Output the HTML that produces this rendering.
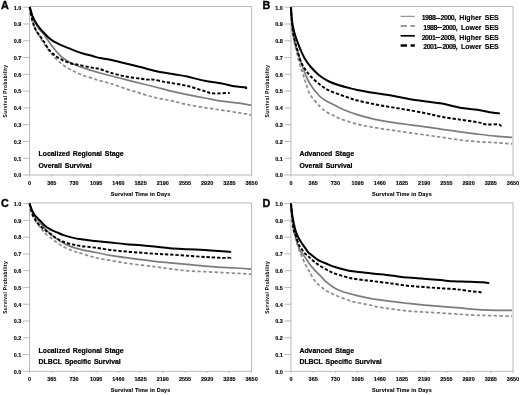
<!DOCTYPE html><html><head><meta charset="utf-8"><style>
html,body{margin:0;padding:0;background:#fff;width:520px;height:395px;overflow:hidden}
svg{display:block;will-change:transform} text{font-family:"Liberation Sans", sans-serif;fill:#000}
.tk{font-size:5.5px;font-weight:bold;stroke:#000;stroke-width:0.12px}
.yl{font-size:4.8px;font-weight:bold;letter-spacing:0.4px}
.pl{font-size:10.8px;font-weight:bold;stroke:#000;stroke-width:0.35px}
.an{font-size:6.9px;font-weight:bold;word-spacing:1px;stroke:#000;stroke-width:0.22px}
.lg{font-size:7px;font-weight:bold;stroke:#000;stroke-width:0.15px;word-spacing:1.3px}.dg{letter-spacing:-0.5px}
</style></head><body>
<svg width="520" height="395" viewBox="0 0 520 395">
<g transform="translate(0,0)">
<path d="M29.6,6.5H251.6V175.0H29.6Z" fill="none" stroke="#b8b8b8" stroke-width="1"/>
<line x1="23.2" y1="175.00" x2="29.6" y2="175.00" stroke="#b8b8b8" stroke-width="1"/>
<text x="21.4" y="177.30" text-anchor="end" class="tk">0.0</text>
<line x1="23.2" y1="158.22" x2="29.6" y2="158.22" stroke="#b8b8b8" stroke-width="1"/>
<text x="21.4" y="160.52" text-anchor="end" class="tk">0.1</text>
<line x1="23.2" y1="141.44" x2="29.6" y2="141.44" stroke="#b8b8b8" stroke-width="1"/>
<text x="21.4" y="143.74" text-anchor="end" class="tk">0.2</text>
<line x1="23.2" y1="124.66" x2="29.6" y2="124.66" stroke="#b8b8b8" stroke-width="1"/>
<text x="21.4" y="126.96" text-anchor="end" class="tk">0.3</text>
<line x1="23.2" y1="107.88" x2="29.6" y2="107.88" stroke="#b8b8b8" stroke-width="1"/>
<text x="21.4" y="110.18" text-anchor="end" class="tk">0.4</text>
<line x1="23.2" y1="91.10" x2="29.6" y2="91.10" stroke="#b8b8b8" stroke-width="1"/>
<text x="21.4" y="93.40" text-anchor="end" class="tk">0.5</text>
<line x1="23.2" y1="74.32" x2="29.6" y2="74.32" stroke="#b8b8b8" stroke-width="1"/>
<text x="21.4" y="76.62" text-anchor="end" class="tk">0.6</text>
<line x1="23.2" y1="57.54" x2="29.6" y2="57.54" stroke="#b8b8b8" stroke-width="1"/>
<text x="21.4" y="59.84" text-anchor="end" class="tk">0.7</text>
<line x1="23.2" y1="40.76" x2="29.6" y2="40.76" stroke="#b8b8b8" stroke-width="1"/>
<text x="21.4" y="43.06" text-anchor="end" class="tk">0.8</text>
<line x1="23.2" y1="23.98" x2="29.6" y2="23.98" stroke="#b8b8b8" stroke-width="1"/>
<text x="21.4" y="26.28" text-anchor="end" class="tk">0.9</text>
<line x1="23.2" y1="7.20" x2="29.6" y2="7.20" stroke="#b8b8b8" stroke-width="1"/>
<text x="21.4" y="9.50" text-anchor="end" class="tk">1.0</text>
<line x1="29.60" y1="175.0" x2="29.60" y2="176.6" stroke="#b8b8b8" stroke-width="1"/>
<text x="29.60" y="185.1" text-anchor="middle" class="tk">0</text>
<line x1="51.80" y1="175.0" x2="51.80" y2="176.6" stroke="#b8b8b8" stroke-width="1"/>
<text x="51.80" y="185.1" text-anchor="middle" class="tk">365</text>
<line x1="74.00" y1="175.0" x2="74.00" y2="176.6" stroke="#b8b8b8" stroke-width="1"/>
<text x="74.00" y="185.1" text-anchor="middle" class="tk">730</text>
<line x1="96.20" y1="175.0" x2="96.20" y2="176.6" stroke="#b8b8b8" stroke-width="1"/>
<text x="96.20" y="185.1" text-anchor="middle" class="tk">1095</text>
<line x1="118.40" y1="175.0" x2="118.40" y2="176.6" stroke="#b8b8b8" stroke-width="1"/>
<text x="118.40" y="185.1" text-anchor="middle" class="tk">1460</text>
<line x1="140.60" y1="175.0" x2="140.60" y2="176.6" stroke="#b8b8b8" stroke-width="1"/>
<text x="140.60" y="185.1" text-anchor="middle" class="tk">1825</text>
<line x1="162.80" y1="175.0" x2="162.80" y2="176.6" stroke="#b8b8b8" stroke-width="1"/>
<text x="162.80" y="185.1" text-anchor="middle" class="tk">2190</text>
<line x1="185.00" y1="175.0" x2="185.00" y2="176.6" stroke="#b8b8b8" stroke-width="1"/>
<text x="185.00" y="185.1" text-anchor="middle" class="tk">2555</text>
<line x1="207.20" y1="175.0" x2="207.20" y2="176.6" stroke="#b8b8b8" stroke-width="1"/>
<text x="207.20" y="185.1" text-anchor="middle" class="tk">2920</text>
<line x1="229.40" y1="175.0" x2="229.40" y2="176.6" stroke="#b8b8b8" stroke-width="1"/>
<text x="229.40" y="185.1" text-anchor="middle" class="tk">3285</text>
<line x1="251.60" y1="175.0" x2="251.60" y2="176.6" stroke="#b8b8b8" stroke-width="1"/>
<text x="251.60" y="185.1" text-anchor="middle" class="tk">3650</text>
<text x="140.60" y="196" text-anchor="middle" class="tk" style="letter-spacing:0.15px">Survival Time in Days</text>
<text transform="translate(7.1,91) rotate(-90)" text-anchor="middle" class="yl">Survival Probability</text>
<text x="1" y="8.9" class="pl">A</text>
<text x="38.5" y="156.2" class="an">Localized Regional Stage</text>
<text x="38.5" y="167.8" class="an">Overall Survival</text>
</g>
<g transform="translate(261.4,0)">
<path d="M29.6,6.5H251.6V175.0H29.6Z" fill="none" stroke="#b8b8b8" stroke-width="1"/>
<line x1="23.2" y1="175.00" x2="29.6" y2="175.00" stroke="#b8b8b8" stroke-width="1"/>
<text x="21.4" y="177.30" text-anchor="end" class="tk">0.0</text>
<line x1="23.2" y1="158.22" x2="29.6" y2="158.22" stroke="#b8b8b8" stroke-width="1"/>
<text x="21.4" y="160.52" text-anchor="end" class="tk">0.1</text>
<line x1="23.2" y1="141.44" x2="29.6" y2="141.44" stroke="#b8b8b8" stroke-width="1"/>
<text x="21.4" y="143.74" text-anchor="end" class="tk">0.2</text>
<line x1="23.2" y1="124.66" x2="29.6" y2="124.66" stroke="#b8b8b8" stroke-width="1"/>
<text x="21.4" y="126.96" text-anchor="end" class="tk">0.3</text>
<line x1="23.2" y1="107.88" x2="29.6" y2="107.88" stroke="#b8b8b8" stroke-width="1"/>
<text x="21.4" y="110.18" text-anchor="end" class="tk">0.4</text>
<line x1="23.2" y1="91.10" x2="29.6" y2="91.10" stroke="#b8b8b8" stroke-width="1"/>
<text x="21.4" y="93.40" text-anchor="end" class="tk">0.5</text>
<line x1="23.2" y1="74.32" x2="29.6" y2="74.32" stroke="#b8b8b8" stroke-width="1"/>
<text x="21.4" y="76.62" text-anchor="end" class="tk">0.6</text>
<line x1="23.2" y1="57.54" x2="29.6" y2="57.54" stroke="#b8b8b8" stroke-width="1"/>
<text x="21.4" y="59.84" text-anchor="end" class="tk">0.7</text>
<line x1="23.2" y1="40.76" x2="29.6" y2="40.76" stroke="#b8b8b8" stroke-width="1"/>
<text x="21.4" y="43.06" text-anchor="end" class="tk">0.8</text>
<line x1="23.2" y1="23.98" x2="29.6" y2="23.98" stroke="#b8b8b8" stroke-width="1"/>
<text x="21.4" y="26.28" text-anchor="end" class="tk">0.9</text>
<line x1="23.2" y1="7.20" x2="29.6" y2="7.20" stroke="#b8b8b8" stroke-width="1"/>
<text x="21.4" y="9.50" text-anchor="end" class="tk">1.0</text>
<line x1="29.60" y1="175.0" x2="29.60" y2="176.6" stroke="#b8b8b8" stroke-width="1"/>
<text x="29.60" y="185.1" text-anchor="middle" class="tk">0</text>
<line x1="51.80" y1="175.0" x2="51.80" y2="176.6" stroke="#b8b8b8" stroke-width="1"/>
<text x="51.80" y="185.1" text-anchor="middle" class="tk">365</text>
<line x1="74.00" y1="175.0" x2="74.00" y2="176.6" stroke="#b8b8b8" stroke-width="1"/>
<text x="74.00" y="185.1" text-anchor="middle" class="tk">730</text>
<line x1="96.20" y1="175.0" x2="96.20" y2="176.6" stroke="#b8b8b8" stroke-width="1"/>
<text x="96.20" y="185.1" text-anchor="middle" class="tk">1095</text>
<line x1="118.40" y1="175.0" x2="118.40" y2="176.6" stroke="#b8b8b8" stroke-width="1"/>
<text x="118.40" y="185.1" text-anchor="middle" class="tk">1460</text>
<line x1="140.60" y1="175.0" x2="140.60" y2="176.6" stroke="#b8b8b8" stroke-width="1"/>
<text x="140.60" y="185.1" text-anchor="middle" class="tk">1825</text>
<line x1="162.80" y1="175.0" x2="162.80" y2="176.6" stroke="#b8b8b8" stroke-width="1"/>
<text x="162.80" y="185.1" text-anchor="middle" class="tk">2190</text>
<line x1="185.00" y1="175.0" x2="185.00" y2="176.6" stroke="#b8b8b8" stroke-width="1"/>
<text x="185.00" y="185.1" text-anchor="middle" class="tk">2555</text>
<line x1="207.20" y1="175.0" x2="207.20" y2="176.6" stroke="#b8b8b8" stroke-width="1"/>
<text x="207.20" y="185.1" text-anchor="middle" class="tk">2920</text>
<line x1="229.40" y1="175.0" x2="229.40" y2="176.6" stroke="#b8b8b8" stroke-width="1"/>
<text x="229.40" y="185.1" text-anchor="middle" class="tk">3285</text>
<line x1="251.60" y1="175.0" x2="251.60" y2="176.6" stroke="#b8b8b8" stroke-width="1"/>
<text x="251.60" y="185.1" text-anchor="middle" class="tk">3650</text>
<text x="140.60" y="196" text-anchor="middle" class="tk" style="letter-spacing:0.15px">Survival Time in Days</text>
<text transform="translate(7.1,91) rotate(-90)" text-anchor="middle" class="yl">Survival Probability</text>
<text x="1" y="8.9" class="pl">B</text>
<text x="38.0" y="156.2" class="an">Advanced Stage</text>
<text x="38.0" y="167.8" class="an">Overall Survival</text>
</g>
<g transform="translate(0,196.35)">
<path d="M29.6,6.5H251.6V175.0H29.6Z" fill="none" stroke="#b8b8b8" stroke-width="1"/>
<line x1="23.2" y1="175.00" x2="29.6" y2="175.00" stroke="#b8b8b8" stroke-width="1"/>
<text x="21.4" y="177.30" text-anchor="end" class="tk">0.0</text>
<line x1="23.2" y1="158.22" x2="29.6" y2="158.22" stroke="#b8b8b8" stroke-width="1"/>
<text x="21.4" y="160.52" text-anchor="end" class="tk">0.1</text>
<line x1="23.2" y1="141.44" x2="29.6" y2="141.44" stroke="#b8b8b8" stroke-width="1"/>
<text x="21.4" y="143.74" text-anchor="end" class="tk">0.2</text>
<line x1="23.2" y1="124.66" x2="29.6" y2="124.66" stroke="#b8b8b8" stroke-width="1"/>
<text x="21.4" y="126.96" text-anchor="end" class="tk">0.3</text>
<line x1="23.2" y1="107.88" x2="29.6" y2="107.88" stroke="#b8b8b8" stroke-width="1"/>
<text x="21.4" y="110.18" text-anchor="end" class="tk">0.4</text>
<line x1="23.2" y1="91.10" x2="29.6" y2="91.10" stroke="#b8b8b8" stroke-width="1"/>
<text x="21.4" y="93.40" text-anchor="end" class="tk">0.5</text>
<line x1="23.2" y1="74.32" x2="29.6" y2="74.32" stroke="#b8b8b8" stroke-width="1"/>
<text x="21.4" y="76.62" text-anchor="end" class="tk">0.6</text>
<line x1="23.2" y1="57.54" x2="29.6" y2="57.54" stroke="#b8b8b8" stroke-width="1"/>
<text x="21.4" y="59.84" text-anchor="end" class="tk">0.7</text>
<line x1="23.2" y1="40.76" x2="29.6" y2="40.76" stroke="#b8b8b8" stroke-width="1"/>
<text x="21.4" y="43.06" text-anchor="end" class="tk">0.8</text>
<line x1="23.2" y1="23.98" x2="29.6" y2="23.98" stroke="#b8b8b8" stroke-width="1"/>
<text x="21.4" y="26.28" text-anchor="end" class="tk">0.9</text>
<line x1="23.2" y1="7.20" x2="29.6" y2="7.20" stroke="#b8b8b8" stroke-width="1"/>
<text x="21.4" y="9.50" text-anchor="end" class="tk">1.0</text>
<line x1="29.60" y1="175.0" x2="29.60" y2="176.6" stroke="#b8b8b8" stroke-width="1"/>
<text x="29.60" y="185.1" text-anchor="middle" class="tk">0</text>
<line x1="51.80" y1="175.0" x2="51.80" y2="176.6" stroke="#b8b8b8" stroke-width="1"/>
<text x="51.80" y="185.1" text-anchor="middle" class="tk">365</text>
<line x1="74.00" y1="175.0" x2="74.00" y2="176.6" stroke="#b8b8b8" stroke-width="1"/>
<text x="74.00" y="185.1" text-anchor="middle" class="tk">730</text>
<line x1="96.20" y1="175.0" x2="96.20" y2="176.6" stroke="#b8b8b8" stroke-width="1"/>
<text x="96.20" y="185.1" text-anchor="middle" class="tk">1095</text>
<line x1="118.40" y1="175.0" x2="118.40" y2="176.6" stroke="#b8b8b8" stroke-width="1"/>
<text x="118.40" y="185.1" text-anchor="middle" class="tk">1460</text>
<line x1="140.60" y1="175.0" x2="140.60" y2="176.6" stroke="#b8b8b8" stroke-width="1"/>
<text x="140.60" y="185.1" text-anchor="middle" class="tk">1825</text>
<line x1="162.80" y1="175.0" x2="162.80" y2="176.6" stroke="#b8b8b8" stroke-width="1"/>
<text x="162.80" y="185.1" text-anchor="middle" class="tk">2190</text>
<line x1="185.00" y1="175.0" x2="185.00" y2="176.6" stroke="#b8b8b8" stroke-width="1"/>
<text x="185.00" y="185.1" text-anchor="middle" class="tk">2555</text>
<line x1="207.20" y1="175.0" x2="207.20" y2="176.6" stroke="#b8b8b8" stroke-width="1"/>
<text x="207.20" y="185.1" text-anchor="middle" class="tk">2920</text>
<line x1="229.40" y1="175.0" x2="229.40" y2="176.6" stroke="#b8b8b8" stroke-width="1"/>
<text x="229.40" y="185.1" text-anchor="middle" class="tk">3285</text>
<line x1="251.60" y1="175.0" x2="251.60" y2="176.6" stroke="#b8b8b8" stroke-width="1"/>
<text x="251.60" y="185.1" text-anchor="middle" class="tk">3650</text>
<text x="140.60" y="196" text-anchor="middle" class="tk" style="letter-spacing:0.15px">Survival Time in Days</text>
<text transform="translate(7.1,91) rotate(-90)" text-anchor="middle" class="yl">Survival Probability</text>
<text x="1" y="10.9" class="pl">C</text>
<text x="38.5" y="156.2" class="an">Localized Regional Stage</text>
<text x="38.5" y="167.8" class="an">DLBCL Specific Survival</text>
</g>
<g transform="translate(261.4,196.35)">
<path d="M29.6,6.5H251.6V175.0H29.6Z" fill="none" stroke="#b8b8b8" stroke-width="1"/>
<line x1="23.2" y1="175.00" x2="29.6" y2="175.00" stroke="#b8b8b8" stroke-width="1"/>
<text x="21.4" y="177.30" text-anchor="end" class="tk">0.0</text>
<line x1="23.2" y1="158.22" x2="29.6" y2="158.22" stroke="#b8b8b8" stroke-width="1"/>
<text x="21.4" y="160.52" text-anchor="end" class="tk">0.1</text>
<line x1="23.2" y1="141.44" x2="29.6" y2="141.44" stroke="#b8b8b8" stroke-width="1"/>
<text x="21.4" y="143.74" text-anchor="end" class="tk">0.2</text>
<line x1="23.2" y1="124.66" x2="29.6" y2="124.66" stroke="#b8b8b8" stroke-width="1"/>
<text x="21.4" y="126.96" text-anchor="end" class="tk">0.3</text>
<line x1="23.2" y1="107.88" x2="29.6" y2="107.88" stroke="#b8b8b8" stroke-width="1"/>
<text x="21.4" y="110.18" text-anchor="end" class="tk">0.4</text>
<line x1="23.2" y1="91.10" x2="29.6" y2="91.10" stroke="#b8b8b8" stroke-width="1"/>
<text x="21.4" y="93.40" text-anchor="end" class="tk">0.5</text>
<line x1="23.2" y1="74.32" x2="29.6" y2="74.32" stroke="#b8b8b8" stroke-width="1"/>
<text x="21.4" y="76.62" text-anchor="end" class="tk">0.6</text>
<line x1="23.2" y1="57.54" x2="29.6" y2="57.54" stroke="#b8b8b8" stroke-width="1"/>
<text x="21.4" y="59.84" text-anchor="end" class="tk">0.7</text>
<line x1="23.2" y1="40.76" x2="29.6" y2="40.76" stroke="#b8b8b8" stroke-width="1"/>
<text x="21.4" y="43.06" text-anchor="end" class="tk">0.8</text>
<line x1="23.2" y1="23.98" x2="29.6" y2="23.98" stroke="#b8b8b8" stroke-width="1"/>
<text x="21.4" y="26.28" text-anchor="end" class="tk">0.9</text>
<line x1="23.2" y1="7.20" x2="29.6" y2="7.20" stroke="#b8b8b8" stroke-width="1"/>
<text x="21.4" y="9.50" text-anchor="end" class="tk">1.0</text>
<line x1="29.60" y1="175.0" x2="29.60" y2="176.6" stroke="#b8b8b8" stroke-width="1"/>
<text x="29.60" y="185.1" text-anchor="middle" class="tk">0</text>
<line x1="51.80" y1="175.0" x2="51.80" y2="176.6" stroke="#b8b8b8" stroke-width="1"/>
<text x="51.80" y="185.1" text-anchor="middle" class="tk">365</text>
<line x1="74.00" y1="175.0" x2="74.00" y2="176.6" stroke="#b8b8b8" stroke-width="1"/>
<text x="74.00" y="185.1" text-anchor="middle" class="tk">730</text>
<line x1="96.20" y1="175.0" x2="96.20" y2="176.6" stroke="#b8b8b8" stroke-width="1"/>
<text x="96.20" y="185.1" text-anchor="middle" class="tk">1095</text>
<line x1="118.40" y1="175.0" x2="118.40" y2="176.6" stroke="#b8b8b8" stroke-width="1"/>
<text x="118.40" y="185.1" text-anchor="middle" class="tk">1460</text>
<line x1="140.60" y1="175.0" x2="140.60" y2="176.6" stroke="#b8b8b8" stroke-width="1"/>
<text x="140.60" y="185.1" text-anchor="middle" class="tk">1825</text>
<line x1="162.80" y1="175.0" x2="162.80" y2="176.6" stroke="#b8b8b8" stroke-width="1"/>
<text x="162.80" y="185.1" text-anchor="middle" class="tk">2190</text>
<line x1="185.00" y1="175.0" x2="185.00" y2="176.6" stroke="#b8b8b8" stroke-width="1"/>
<text x="185.00" y="185.1" text-anchor="middle" class="tk">2555</text>
<line x1="207.20" y1="175.0" x2="207.20" y2="176.6" stroke="#b8b8b8" stroke-width="1"/>
<text x="207.20" y="185.1" text-anchor="middle" class="tk">2920</text>
<line x1="229.40" y1="175.0" x2="229.40" y2="176.6" stroke="#b8b8b8" stroke-width="1"/>
<text x="229.40" y="185.1" text-anchor="middle" class="tk">3285</text>
<line x1="251.60" y1="175.0" x2="251.60" y2="176.6" stroke="#b8b8b8" stroke-width="1"/>
<text x="251.60" y="185.1" text-anchor="middle" class="tk">3650</text>
<text x="140.60" y="196" text-anchor="middle" class="tk" style="letter-spacing:0.15px">Survival Time in Days</text>
<text transform="translate(7.1,91) rotate(-90)" text-anchor="middle" class="yl">Survival Probability</text>
<text x="1" y="10.9" class="pl">D</text>
<text x="38.0" y="156.2" class="an">Advanced Stage</text>
<text x="38.0" y="167.8" class="an">DLBCL Specific Survival</text>
</g>
<path d="M29.60,7.20 C29.75,8.17 30.05,10.70 30.50,13.00 C30.95,15.30 31.63,18.58 32.30,21.00 C32.97,23.42 33.75,25.67 34.50,27.50 C35.25,29.33 35.88,30.33 36.80,32.00 C37.72,33.67 38.20,34.68 40.00,37.50 C41.80,40.32 45.07,45.48 47.60,48.90 C50.13,52.32 52.67,55.35 55.20,58.00 C57.73,60.65 60.27,62.90 62.80,64.80 C65.33,66.70 67.87,68.00 70.40,69.40 C72.93,70.80 75.47,72.07 78.00,73.20 C80.53,74.33 83.07,75.32 85.60,76.20 C88.13,77.08 91.30,77.87 93.20,78.50 C95.10,79.13 94.13,79.17 97.00,80.00 C99.87,80.83 105.60,82.03 110.40,83.50 C115.20,84.97 120.67,87.13 125.80,88.80 C130.93,90.47 136.08,91.97 141.20,93.50 C146.32,95.03 151.37,96.77 156.50,98.00 C161.63,99.23 166.87,99.80 172.00,100.90 C177.13,102.00 181.87,103.48 187.30,104.60 C192.73,105.72 198.83,106.67 204.60,107.60 C210.37,108.53 216.13,109.33 221.90,110.20 C227.67,111.07 234.30,112.00 239.20,112.80 C244.10,113.60 249.28,114.63 251.30,115.00" fill="none" stroke="#8c8c8c" stroke-width="1.7" stroke-dasharray="3.4 2.3" stroke-linejoin="round"/>
<path d="M29.60,7.20 C30.05,8.75 31.25,13.70 32.30,16.50 C33.35,19.30 34.57,21.68 35.90,24.00 C37.23,26.32 38.95,28.63 40.30,30.40 C41.65,32.17 42.88,33.17 44.00,34.60 C45.12,36.03 46.00,37.55 47.00,39.00 C48.00,40.45 49.00,41.92 50.00,43.30 C51.00,44.68 52.00,46.02 53.00,47.30 C54.00,48.58 54.92,49.75 56.00,51.00 C57.08,52.25 58.33,53.63 59.50,54.80 C60.67,55.97 61.18,56.67 63.00,58.00 C64.82,59.33 67.90,61.47 70.40,62.80 C72.90,64.13 75.47,65.03 78.00,66.00 C80.53,66.97 83.07,67.77 85.60,68.60 C88.13,69.43 90.80,70.27 93.20,71.00 C95.60,71.73 97.13,72.20 100.00,73.00 C102.87,73.80 106.10,74.70 110.40,75.80 C114.70,76.90 120.67,78.32 125.80,79.60 C130.93,80.88 136.08,82.22 141.20,83.50 C146.32,84.78 151.37,86.00 156.50,87.30 C161.63,88.60 166.87,90.08 172.00,91.30 C177.13,92.52 181.87,93.48 187.30,94.60 C192.73,95.72 198.83,96.90 204.60,98.00 C210.37,99.10 216.13,100.33 221.90,101.20 C227.67,102.07 234.30,102.52 239.20,103.20 C244.10,103.88 249.28,104.95 251.30,105.30" fill="none" stroke="#7c7c7c" stroke-width="1.7" stroke-linejoin="round"/>
<path d="M29.60,7.20 C29.75,8.02 30.05,9.95 30.50,12.10 C30.95,14.25 31.63,17.58 32.30,20.10 C32.97,22.62 33.75,25.28 34.50,27.20 C35.25,29.12 35.90,30.13 36.80,31.60 C37.70,33.07 39.02,34.75 39.90,36.00 C40.78,37.25 41.32,37.97 42.10,39.10 C42.88,40.23 43.43,41.02 44.60,42.80 C45.77,44.58 47.33,47.65 49.10,49.80 C50.87,51.95 52.92,53.95 55.20,55.70 C57.48,57.45 60.27,59.05 62.80,60.30 C65.33,61.55 67.87,62.45 70.40,63.20 C72.93,63.95 75.47,64.27 78.00,64.80 C80.53,65.33 83.07,65.88 85.60,66.40 C88.13,66.92 90.92,67.48 93.20,67.90 C95.48,68.32 96.43,68.10 99.30,68.90 C102.17,69.70 105.98,71.43 110.40,72.70 C114.82,73.97 120.67,75.48 125.80,76.50 C130.93,77.52 137.62,78.28 141.20,78.80 C144.78,79.32 145.25,79.47 147.30,79.60 C149.35,79.73 150.68,79.22 153.50,79.60 C156.32,79.98 161.45,81.37 164.20,81.90 C166.95,82.43 166.15,82.12 170.00,82.80 C173.85,83.48 181.53,84.62 187.30,86.00 C193.07,87.38 200.27,89.87 204.60,91.10 C208.93,92.33 209.12,93.10 213.30,93.40 C217.48,93.70 226.97,92.98 229.70,92.90" fill="none" stroke="#000" stroke-width="1.95" stroke-dasharray="3.3 1.9" stroke-linejoin="round"/>
<path d="M29.60,7.20 C29.68,7.33 29.65,6.60 30.10,8.00 C30.55,9.40 31.33,13.15 32.30,15.60 C33.27,18.05 34.57,20.48 35.90,22.70 C37.23,24.92 38.83,27.08 40.30,28.90 C41.77,30.72 43.33,32.15 44.70,33.60 C46.07,35.05 47.15,36.38 48.50,37.60 C49.85,38.82 51.30,39.93 52.80,40.90 C54.30,41.87 55.83,42.57 57.50,43.40 C59.17,44.23 60.65,44.98 62.80,45.90 C64.95,46.82 67.87,47.90 70.40,48.90 C72.93,49.90 75.47,51.02 78.00,51.90 C80.53,52.78 83.07,53.48 85.60,54.20 C88.13,54.92 90.80,55.57 93.20,56.20 C95.60,56.83 97.13,57.40 100.00,58.00 C102.87,58.60 106.10,58.88 110.40,59.80 C114.70,60.72 120.67,62.25 125.80,63.50 C130.93,64.75 136.08,66.02 141.20,67.30 C146.32,68.58 150.87,70.02 156.50,71.20 C162.13,72.38 169.87,73.50 175.00,74.40 C180.13,75.30 182.37,75.53 187.30,76.60 C192.23,77.67 198.83,79.67 204.60,80.80 C210.37,81.93 217.00,82.48 221.90,83.40 C226.80,84.32 230.10,85.65 234.00,86.30 C237.90,86.95 243.33,86.85 245.30,87.30 C247.27,87.75 245.72,88.72 245.80,89.00" fill="none" stroke="#000" stroke-width="2" stroke-linejoin="round"/>
<path d="M291.00,7.20 C291.15,9.67 291.50,17.20 291.90,22.00 C292.30,26.80 292.90,32.17 293.40,36.00 C293.90,39.83 294.30,42.13 294.90,45.00 C295.50,47.87 296.15,49.80 297.00,53.20 C297.85,56.60 298.98,61.85 300.00,65.40 C301.02,68.95 302.08,71.40 303.10,74.50 C304.12,77.60 304.88,80.58 306.10,84.00 C307.32,87.42 308.02,91.17 310.40,95.00 C312.78,98.83 317.57,104.08 320.40,107.00 C323.23,109.92 325.07,111.00 327.40,112.50 C329.73,114.00 332.40,115.00 334.40,116.00 C336.40,117.00 335.62,117.15 339.40,118.50 C343.18,119.85 351.18,122.58 357.10,124.10 C363.02,125.62 368.98,126.57 374.90,127.60 C380.82,128.63 386.70,129.42 392.60,130.30 C398.50,131.18 404.17,132.03 410.30,132.90 C416.43,133.77 424.10,134.77 429.40,135.50 C434.70,136.23 437.02,136.55 442.10,137.30 C447.18,138.05 453.98,139.27 459.90,140.00 C465.82,140.73 471.70,141.27 477.60,141.70 C483.50,142.13 489.53,142.23 495.30,142.60 C501.07,142.97 509.38,143.68 512.20,143.90" fill="none" stroke="#8c8c8c" stroke-width="1.7" stroke-dasharray="3.4 2.3" stroke-linejoin="round"/>
<path d="M291.00,7.20 C291.15,9.33 291.50,15.70 291.90,20.00 C292.30,24.30 292.82,29.00 293.40,33.00 C293.98,37.00 294.67,40.83 295.40,44.00 C296.13,47.17 296.97,49.25 297.80,52.00 C298.63,54.75 299.30,57.17 300.40,60.50 C301.50,63.83 302.73,68.00 304.40,72.00 C306.07,76.00 307.90,80.50 310.40,84.50 C312.90,88.50 316.57,93.15 319.40,96.00 C322.23,98.85 324.73,100.00 327.40,101.60 C330.07,103.20 332.57,104.20 335.40,105.60 C338.23,107.00 340.78,108.50 344.40,110.00 C348.02,111.50 352.02,113.05 357.10,114.60 C362.18,116.15 368.98,118.00 374.90,119.30 C380.82,120.60 386.70,121.47 392.60,122.40 C398.50,123.33 404.17,124.07 410.30,124.90 C416.43,125.73 424.10,126.67 429.40,127.40 C434.70,128.13 437.02,128.57 442.10,129.30 C447.18,130.03 453.98,131.00 459.90,131.80 C465.82,132.60 471.70,133.38 477.60,134.10 C483.50,134.82 489.53,135.57 495.30,136.10 C501.07,136.63 509.38,137.10 512.20,137.30" fill="none" stroke="#7c7c7c" stroke-width="1.7" stroke-linejoin="round"/>
<path d="M291.00,7.20 C291.12,9.33 291.45,16.37 291.70,20.00 C291.95,23.63 292.17,26.23 292.50,29.00 C292.83,31.77 293.18,34.07 293.70,36.60 C294.22,39.13 294.97,41.87 295.60,44.20 C296.23,46.53 296.70,47.85 297.50,50.60 C298.30,53.35 299.22,57.72 300.40,60.70 C301.58,63.68 302.93,65.95 304.60,68.50 C306.27,71.05 307.77,73.25 310.40,76.00 C313.03,78.75 317.30,82.58 320.40,85.00 C323.50,87.42 325.88,88.93 329.00,90.50 C332.12,92.07 335.87,93.20 339.10,94.40 C342.33,95.60 345.40,96.70 348.40,97.70 C351.40,98.70 352.68,99.30 357.10,100.40 C361.52,101.50 368.98,103.13 374.90,104.30 C380.82,105.47 386.70,106.38 392.60,107.40 C398.50,108.42 404.50,109.37 410.30,110.40 C416.10,111.43 422.10,112.52 427.40,113.60 C432.70,114.68 436.68,115.90 442.10,116.90 C447.52,117.90 453.98,118.72 459.90,119.60 C465.82,120.48 473.17,121.40 477.60,122.20 C482.03,123.00 482.95,124.03 486.50,124.40 C490.05,124.77 496.40,123.97 498.90,124.40 C501.40,124.83 501.07,126.57 501.50,127.00" fill="none" stroke="#000" stroke-width="1.95" stroke-dasharray="3.3 1.9" stroke-linejoin="round"/>
<path d="M291.00,7.20 C291.07,8.50 291.15,12.20 291.40,15.00 C291.65,17.80 292.00,21.03 292.50,24.00 C293.00,26.97 293.67,30.07 294.40,32.80 C295.13,35.53 295.90,37.62 296.90,40.40 C297.90,43.18 299.15,46.57 300.40,49.50 C301.65,52.43 302.73,55.17 304.40,58.00 C306.07,60.83 307.90,63.58 310.40,66.50 C312.90,69.42 316.30,73.00 319.40,75.50 C322.50,78.00 325.72,79.87 329.00,81.50 C332.28,83.13 335.87,84.25 339.10,85.30 C342.33,86.35 345.40,87.03 348.40,87.80 C351.40,88.57 352.68,89.03 357.10,89.90 C361.52,90.77 368.98,92.03 374.90,93.00 C380.82,93.97 386.70,94.65 392.60,95.70 C398.50,96.75 404.67,98.33 410.30,99.30 C415.93,100.27 421.10,100.78 426.40,101.50 C431.70,102.22 436.52,102.57 442.10,103.60 C447.68,104.63 453.98,106.67 459.90,107.70 C465.82,108.73 472.28,109.00 477.60,109.80 C482.92,110.60 488.10,111.90 491.80,112.50 C495.50,113.10 498.47,113.25 499.80,113.40" fill="none" stroke="#000" stroke-width="2" stroke-linejoin="round"/>
<path d="M29.60,203.55 C29.83,204.68 30.50,208.38 31.00,210.35 C31.50,212.32 31.92,213.68 32.60,215.35 C33.28,217.02 34.18,218.77 35.10,220.35 C36.02,221.93 36.92,223.27 38.10,224.85 C39.28,226.43 40.93,228.35 42.20,229.85 C43.47,231.35 43.63,232.02 45.70,233.85 C47.77,235.68 51.63,238.68 54.60,240.85 C57.57,243.02 60.55,245.22 63.50,246.85 C66.45,248.48 69.35,249.57 72.30,250.65 C75.25,251.73 77.42,252.20 81.20,253.35 C84.98,254.50 90.13,256.37 95.00,257.55 C99.87,258.73 105.27,259.53 110.40,260.45 C115.53,261.37 120.67,262.28 125.80,263.05 C130.93,263.82 136.08,264.42 141.20,265.05 C146.32,265.68 151.70,266.22 156.50,266.85 C161.30,267.48 164.87,268.18 170.00,268.85 C175.13,269.52 181.53,270.38 187.30,270.85 C193.07,271.32 198.83,271.37 204.60,271.65 C210.37,271.93 216.13,272.25 221.90,272.55 C227.67,272.85 234.30,273.17 239.20,273.45 C244.10,273.73 249.28,274.12 251.30,274.25" fill="none" stroke="#8c8c8c" stroke-width="1.7" stroke-dasharray="3.4 2.3" stroke-linejoin="round"/>
<path d="M29.60,203.55 C30.02,204.85 31.18,209.13 32.10,211.35 C33.02,213.57 33.75,214.93 35.10,216.85 C36.45,218.77 38.43,220.77 40.20,222.85 C41.97,224.93 43.90,227.43 45.70,229.35 C47.50,231.27 49.52,233.02 51.00,234.35 C52.48,235.68 52.52,235.85 54.60,237.35 C56.68,238.85 60.55,241.72 63.50,243.35 C66.45,244.98 69.35,246.10 72.30,247.15 C75.25,248.20 77.42,248.80 81.20,249.65 C84.98,250.50 90.13,251.30 95.00,252.25 C99.87,253.20 105.27,254.45 110.40,255.35 C115.53,256.25 120.67,256.95 125.80,257.65 C130.93,258.35 136.08,258.90 141.20,259.55 C146.32,260.20 151.70,261.00 156.50,261.55 C161.30,262.10 164.87,262.37 170.00,262.85 C175.13,263.33 181.53,263.90 187.30,264.45 C193.07,265.00 198.83,265.67 204.60,266.15 C210.37,266.63 216.13,267.00 221.90,267.35 C227.67,267.70 234.30,267.97 239.20,268.25 C244.10,268.53 249.28,268.92 251.30,269.05" fill="none" stroke="#7c7c7c" stroke-width="1.7" stroke-linejoin="round"/>
<path d="M29.60,203.55 C29.83,204.52 30.50,207.52 31.00,209.35 C31.50,211.18 31.92,212.85 32.60,214.55 C33.28,216.25 34.18,218.03 35.10,219.55 C36.02,221.07 36.92,222.28 38.10,223.65 C39.28,225.02 40.67,226.40 42.20,227.75 C43.73,229.10 45.62,230.48 47.30,231.75 C48.98,233.02 50.78,234.28 52.30,235.35 C53.82,236.42 54.53,237.07 56.40,238.15 C58.27,239.23 60.85,240.82 63.50,241.85 C66.15,242.88 69.35,243.65 72.30,244.35 C75.25,245.05 77.42,245.50 81.20,246.05 C84.98,246.60 90.13,247.00 95.00,247.65 C99.87,248.30 105.27,249.30 110.40,249.95 C115.53,250.60 120.67,251.08 125.80,251.55 C130.93,252.02 136.08,252.37 141.20,252.75 C146.32,253.13 151.70,253.55 156.50,253.85 C161.30,254.15 164.87,254.23 170.00,254.55 C175.13,254.87 181.53,255.35 187.30,255.75 C193.07,256.15 198.83,256.60 204.60,256.95 C210.37,257.30 217.72,257.70 221.90,257.85 C226.08,258.00 228.35,257.65 229.70,257.85 C231.05,258.05 229.95,258.85 230.00,259.05" fill="none" stroke="#000" stroke-width="1.95" stroke-dasharray="3.3 1.9" stroke-linejoin="round"/>
<path d="M29.60,203.55 C30.02,204.68 31.18,208.35 32.10,210.35 C33.02,212.35 33.75,213.83 35.10,215.55 C36.45,217.27 38.47,218.85 40.20,220.65 C41.93,222.45 43.65,224.82 45.50,226.35 C47.35,227.88 49.38,228.85 51.30,229.85 C53.22,230.85 54.97,231.47 57.00,232.35 C59.03,233.23 60.95,234.27 63.50,235.15 C66.05,236.03 69.35,236.95 72.30,237.65 C75.25,238.35 77.42,238.80 81.20,239.35 C84.98,239.90 90.13,240.42 95.00,240.95 C99.87,241.48 105.27,242.02 110.40,242.55 C115.53,243.08 120.67,243.68 125.80,244.15 C130.93,244.62 136.08,244.90 141.20,245.35 C146.32,245.80 151.70,246.38 156.50,246.85 C161.30,247.32 164.87,247.77 170.00,248.15 C175.13,248.53 181.53,248.83 187.30,249.15 C193.07,249.47 198.83,249.70 204.60,250.05 C210.37,250.40 217.72,250.97 221.90,251.25 C226.08,251.53 228.35,251.48 229.70,251.75 C231.05,252.02 229.95,252.67 230.00,252.85" fill="none" stroke="#000" stroke-width="2" stroke-linejoin="round"/>
<path d="M291.00,203.55 C291.15,205.52 291.45,211.05 291.90,215.35 C292.35,219.65 293.10,225.52 293.70,229.35 C294.30,233.18 294.62,234.92 295.50,238.35 C296.38,241.78 297.82,246.62 299.00,249.95 C300.18,253.28 301.42,255.70 302.60,258.35 C303.78,261.00 304.97,263.68 306.10,265.85 C307.23,268.02 308.45,269.63 309.40,271.35 C310.35,273.07 310.52,274.15 311.80,276.15 C313.08,278.15 314.73,280.95 317.10,283.35 C319.47,285.75 323.03,288.62 326.00,290.55 C328.97,292.48 330.47,293.12 334.90,294.95 C339.33,296.78 346.70,299.87 352.60,301.55 C358.50,303.23 366.67,304.25 370.30,305.05 C373.93,305.85 370.98,305.72 374.40,306.35 C377.82,306.98 385.32,308.08 390.80,308.85 C396.28,309.62 401.82,310.42 407.30,310.95 C412.78,311.48 418.22,311.72 423.70,312.05 C429.18,312.38 434.22,312.58 440.20,312.95 C446.18,313.32 453.83,313.88 459.60,314.25 C465.37,314.62 469.73,314.93 474.80,315.15 C479.87,315.37 483.80,315.37 490.00,315.55 C496.20,315.73 508.33,316.13 512.00,316.25" fill="none" stroke="#8c8c8c" stroke-width="1.7" stroke-dasharray="3.4 2.3" stroke-linejoin="round"/>
<path d="M291.00,203.55 C291.15,205.35 291.45,210.55 291.90,214.35 C292.35,218.15 293.10,222.85 293.70,226.35 C294.30,229.85 294.90,232.58 295.50,235.35 C296.10,238.12 296.42,240.22 297.30,242.95 C298.18,245.68 299.62,249.52 300.80,251.75 C301.98,253.98 303.15,254.62 304.40,256.35 C305.65,258.08 306.77,260.07 308.30,262.15 C309.83,264.23 311.53,266.52 313.60,268.85 C315.67,271.18 318.73,274.10 320.70,276.15 C322.67,278.20 322.95,279.08 325.40,281.15 C327.85,283.22 332.03,286.65 335.40,288.55 C338.77,290.45 341.98,291.38 345.60,292.55 C349.22,293.72 353.25,294.62 357.10,295.55 C360.95,296.48 365.82,297.55 368.70,298.15 C371.58,298.75 370.72,298.60 374.40,299.15 C378.08,299.70 385.32,300.75 390.80,301.45 C396.28,302.15 401.82,302.75 407.30,303.35 C412.78,303.95 418.22,304.55 423.70,305.05 C429.18,305.55 434.22,305.87 440.20,306.35 C446.18,306.83 453.83,307.43 459.60,307.95 C465.37,308.47 469.73,309.08 474.80,309.45 C479.87,309.82 483.80,309.98 490.00,310.15 C496.20,310.32 508.33,310.40 512.00,310.45" fill="none" stroke="#7c7c7c" stroke-width="1.7" stroke-linejoin="round"/>
<path d="M291.00,203.55 C291.12,205.02 291.42,209.22 291.70,212.35 C291.98,215.48 292.37,219.35 292.70,222.35 C293.03,225.35 293.23,228.18 293.70,230.35 C294.17,232.52 294.62,232.93 295.50,235.35 C296.38,237.77 298.05,242.68 299.00,244.85 C299.95,247.02 300.30,247.02 301.20,248.35 C302.10,249.68 303.22,251.52 304.40,252.85 C305.58,254.18 307.13,255.30 308.30,256.35 C309.47,257.40 309.93,257.90 311.40,259.15 C312.87,260.40 314.67,262.15 317.10,263.85 C319.53,265.55 323.03,267.73 326.00,269.35 C328.97,270.97 330.47,272.02 334.90,273.55 C339.33,275.08 346.70,277.35 352.60,278.55 C358.50,279.75 366.67,280.28 370.30,280.75 C373.93,281.22 370.98,280.92 374.40,281.35 C377.82,281.78 385.32,282.62 390.80,283.35 C396.28,284.08 401.82,285.15 407.30,285.75 C412.78,286.35 418.22,286.53 423.70,286.95 C429.18,287.37 435.08,287.90 440.20,288.25 C445.32,288.60 451.17,288.82 454.40,289.05 C457.63,289.28 456.97,289.30 459.60,289.65 C462.23,290.00 466.90,290.77 470.20,291.15 C473.50,291.53 477.37,291.62 479.40,291.95 C481.43,292.28 481.90,292.95 482.40,293.15" fill="none" stroke="#000" stroke-width="1.95" stroke-dasharray="3.3 1.9" stroke-linejoin="round"/>
<path d="M291.00,203.55 C291.10,204.68 291.30,207.93 291.60,210.35 C291.90,212.77 292.15,214.70 292.80,218.05 C293.45,221.40 294.47,226.98 295.50,230.45 C296.53,233.92 297.52,236.12 299.00,238.85 C300.48,241.58 302.85,244.60 304.40,246.85 C305.95,249.10 307.13,251.02 308.30,252.35 C309.47,253.68 309.93,253.68 311.40,254.85 C312.87,256.02 315.62,258.30 317.10,259.35 C318.58,260.40 318.82,260.45 320.30,261.15 C321.78,261.85 323.57,262.58 326.00,263.55 C328.43,264.52 330.47,265.65 334.90,266.95 C339.33,268.25 346.70,270.32 352.60,271.35 C358.50,272.38 366.67,272.75 370.30,273.15 C373.93,273.55 370.98,273.37 374.40,273.75 C377.82,274.13 385.32,274.82 390.80,275.45 C396.28,276.08 401.82,277.00 407.30,277.55 C412.78,278.10 418.22,278.33 423.70,278.75 C429.18,279.17 435.23,279.62 440.20,280.05 C445.17,280.48 449.00,281.07 453.50,281.35 C458.00,281.63 462.38,281.58 467.20,281.75 C472.02,281.92 478.73,282.12 482.40,282.35 C486.07,282.58 488.07,283.02 489.20,283.15" fill="none" stroke="#000" stroke-width="2" stroke-linejoin="round"/>
<path d="M400.6,16.4H414.8" fill="none" stroke="#959595" stroke-width="1.25"/>
<text x="498.8" y="20.10" text-anchor="end" class="lg"><tspan class="dg">1988</tspan><tspan style="font-size:9.5px" dy="0.65">–</tspan><tspan class="dg" dy="-0.65">2000</tspan>, Higher SES</text>
<path d="M400.6,26.1H414.8" fill="none" stroke="#999" stroke-width="2" stroke-dasharray="6.4 3.4"/>
<text x="498.8" y="29.80" text-anchor="end" class="lg"><tspan class="dg">1988</tspan><tspan style="font-size:9.5px" dy="0.65">–</tspan><tspan class="dg" dy="-0.65">2000</tspan>, Lower SES</text>
<path d="M400.6,35.8H414.8" fill="none" stroke="#000" stroke-width="1.7"/>
<text x="498.8" y="39.60" text-anchor="end" class="lg"><tspan class="dg">2001</tspan><tspan style="font-size:9.5px" dy="0.65">–</tspan><tspan class="dg" dy="-0.65">2009</tspan>, Higher SES</text>
<path d="M400.6,45.5H414.8" fill="none" stroke="#000" stroke-width="2.4" stroke-dasharray="6.4 3.6"/>
<text x="498.8" y="49.30" text-anchor="end" class="lg"><tspan class="dg">2001</tspan><tspan style="font-size:9.5px" dy="0.65">–</tspan><tspan class="dg" dy="-0.65">2009</tspan>, Lower SES</text>
</svg></body></html>
